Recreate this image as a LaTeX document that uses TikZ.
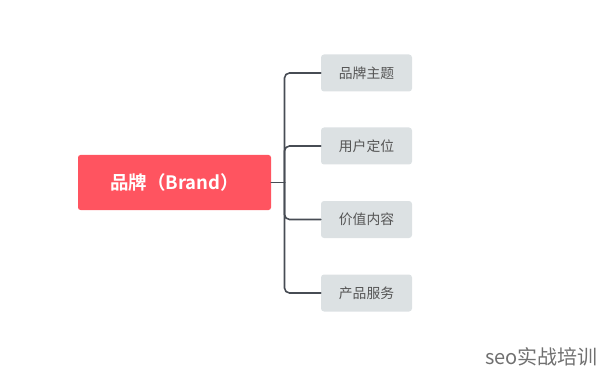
\documentclass[tikz,border=0pt]{standalone}
\usepackage{fontspec}
\setmainfont{Noto Sans CJK SC}[BoldFont={Noto Sans CJK SC Bold}]
\usepackage{xcolor}
\definecolor{brandred}{HTML}{FF5460}
\definecolor{topicgray}{HTML}{DCE1E3}
\definecolor{linegray}{HTML}{474C54}
\definecolor{textgray}{HTML}{555555}
\definecolor{markgray}{HTML}{707070}

\begin{document}
\begin{tikzpicture}[x=1pt,y=-1pt,line cap=round,
  root/.style={fill=brandred,rounded corners=2.5pt,minimum width=193pt,minimum height=55pt,
    text=white,font=\fontsize{18.5}{22}\selectfont\bfseries,inner sep=0pt},
  topic/.style={fill=topicgray,rounded corners=3pt,minimum width=91pt,minimum height=37pt,
    text=textgray,font=\fontsize{13.8}{16}\selectfont,inner sep=0pt},
  branch/.style={draw=linegray,line width=1.6pt,rounded corners=5pt}]
\useasboundingbox (0,0) rectangle (601,371);
\node[root] (brand) at (174.5,182.5) {品牌（Brand）};
\node[topic] (theme) at (366.5,73) {品牌主题};
\node[topic] (user) at (366.5,146) {用户定位};
\node[topic] (value) at (366.5,219.5) {价值内容};
\node[topic] (service) at (366.5,293) {产品服务};
\coordinate (fork) at (284.5,182.5);
\draw[branch] (brand.east) -- (fork);
\draw[branch] (fork) |- (theme.west);
\draw[branch] (fork) |- (user.west);
\draw[branch] (fork) |- (value.west);
\draw[branch] (fork) |- (service.west);
% watermark
\node[text=markgray,font=\fontsize{20}{23}\selectfont,anchor=east,inner sep=0pt] (mark) at (598,357) {seo实战培训};
\end{tikzpicture}
\end{document}
